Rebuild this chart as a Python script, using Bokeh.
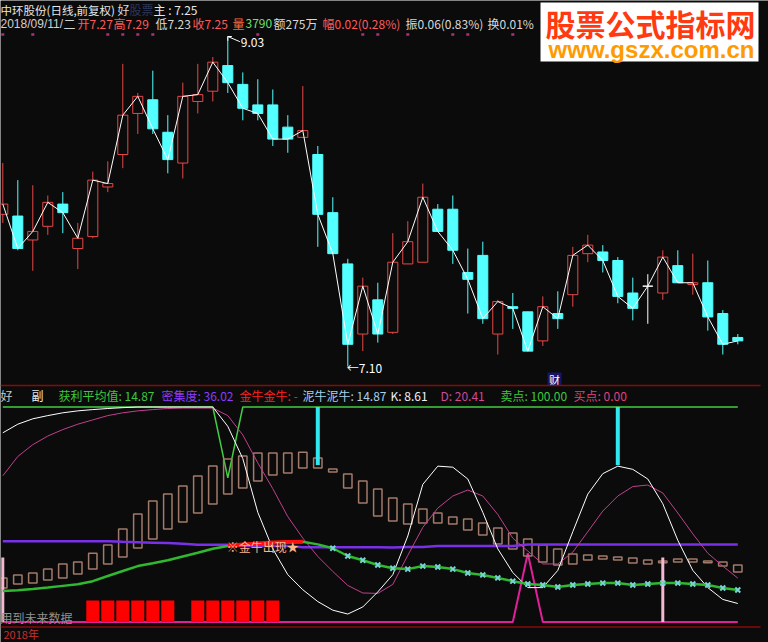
from bokeh.plotting import figure
from bokeh.models import Range1d
from bokeh.embed import file_html
from bokeh.resources import INLINE
from bokeh.core.properties import value

# ---- daily bars (前复权) ----
opens = [7.99, 7.98, 7.84, 7.92, 8.05, 7.79, 7.86, 8.15, 8.34, 8.58,
         8.66, 8.47, 8.29, 8.65, 8.71, 8.86, 8.75, 8.63, 8.63, 8.50,
         8.44, 8.34, 8.00, 7.70, 7.29, 7.49, 7.30, 7.70, 7.71, 8.02,
         8.02, 7.65, 7.75, 7.29, 7.45, 7.42, 7.25, 7.41, 7.52, 7.76,
         7.77, 7.72, 7.53, 7.57, 7.53, 7.69, 7.58, 7.59, 7.41, 7.27]
highs = [8.29, 8.19, 8.16, 8.10, 8.12, 7.94, 8.24, 8.30, 8.87, 8.70,
         8.83, 8.57, 8.76, 8.87, 8.91, 9.03, 8.82, 8.78, 8.72, 8.57,
         8.74, 8.39, 8.09, 7.73, 7.62, 7.59, 7.88, 7.95, 8.17, 8.05,
         8.10, 7.79, 7.83, 7.49, 7.53, 7.42, 7.51, 7.54, 7.80, 7.87,
         7.81, 7.74, 7.62, 7.64, 7.78, 7.78, 7.76, 7.72, 7.43, 7.29]
lows = [7.94, 7.78, 7.66, 7.87, 7.88, 7.67, 7.85, 8.12, 8.26, 8.46,
        8.46, 8.23, 8.20, 8.58, 8.65, 8.70, 8.54, 8.54, 8.39, 8.35,
        8.44, 7.80, 7.76, 7.10, 7.19, 7.24, 7.29, 7.70, 7.71, 7.89,
        7.70, 7.41, 7.35, 7.17, 7.32, 7.19, 7.22, 7.32, 7.45, 7.71,
        7.65, 7.47, 7.37, 7.35, 7.49, 7.59, 7.52, 7.31, 7.17, 7.23]
closes = [8.05, 7.79, 7.89, 8.06, 8.00, 7.85, 8.19, 8.17, 8.57, 8.68,
          8.49, 8.31, 8.68, 8.69, 8.88, 8.76, 8.61, 8.58, 8.43, 8.43,
          8.48, 7.99, 7.76, 7.23, 7.57, 7.29, 7.71, 7.83, 8.09, 7.89,
          7.78, 7.61, 7.38, 7.48, 7.44, 7.19, 7.45, 7.38, 7.75, 7.81,
          7.72, 7.51, 7.44, 7.57, 7.74, 7.59, 7.59, 7.39, 7.23, 7.25]
signal_days = [0, 2, 7, 8, 9, 10, 17, 24, 25, 27, 30, 31, 34]

# ---- sub-chart indicator ----
k_line = [88.0, 92.0, 94.5, 96.0, 97.3, 98.2, 98.8, 99.3, 99.7, 100.0,
          100.0, 100.0, 100.0, 100.0, 100.0, 91.0, 76.0, 51.0, 34.0, 22.0,
          15.0, 9.5, 5.5, 3.7, 7.0, 14.0, 22.0, 40.0, 64.0, 72.5,
          72.0, 66.5, 51.0, 34.0, 23.0, 16.0, 16.0, 24.0, 42.0, 59.5,
          69.0, 72.5, 71.0, 66.5, 55.0, 38.0, 24.0, 16.0, 10.5, 8.61]
d_line = [68.0, 77.0, 82.5, 86.5, 89.5, 92.0, 94.0, 96.0, 97.3, 98.2,
          98.8, 99.3, 99.5, 99.5, 99.5, 96.0, 87.0, 74.0, 62.0, 49.0,
          39.0, 30.5, 23.5, 17.0, 13.5, 13.3, 17.5, 31.0, 44.0, 53.0,
          58.6, 61.4, 58.6, 50.0, 39.0, 33.0, 27.0, 27.0, 32.5, 42.0,
          51.6, 58.6, 63.0, 63.7, 60.0, 50.7, 41.0, 32.0, 26.0, 20.41]
density = [37.6, 37.6, 37.6, 37.6, 37.6, 37.6, 37.6, 37.6, 37.3, 37.1,
           36.9, 36.7, 36.4, 35.9, 35.9, 35.9, 35.4, 35.4, 35.4, 35.4,
           34.8, 34.8, 34.8, 34.8, 34.8, 34.8, 34.6, 34.9, 34.9, 35.3,
           35.3, 35.3, 35.3, 35.3, 35.3, 36.0, 36.0, 36.0, 36.0, 36.0,
           36.0, 36.0, 36.0, 36.0, 36.0, 36.0, 36.0, 36.0, 36.0, 36.02]
profit_avg = [14.4, 14.8, 15.3, 16.0, 16.8, 17.6, 19.0, 21.4, 23.7, 26.0,
              27.3, 28.7, 30.5, 32.2, 34.1, 35.3, 36.0, 36.5, 37.0, 37.2,
              37.3, 36.1, 34.3, 30.7, 28.7, 26.5, 25.0, 24.6, 26.0, 25.6,
              24.6, 22.8, 21.9, 20.5, 19.0, 17.7, 17.2, 16.3, 17.2, 17.7,
              18.1, 18.1, 17.2, 17.7, 18.1, 18.1, 17.7, 17.2, 15.8, 14.87]
box_top = [20.5, 21.9, 22.8, 24.6, 27.0, 27.9, 32.0, 35.8, 43.3, 50.2,
           56.3, 59.5, 63.3, 67.9, 72.6, 75.8, 77.2, 78.6, 78.6, 78.6,
           79.0, 76.3, 71.2, 68.8, 65.6, 61.9, 57.7, 54.9, 52.6, 50.7,
           48.8, 47.9, 46.0, 43.7, 41.4, 38.6, 35.8, 34.0, 31.6, 31.2,
           30.7, 30.2, 29.8, 28.8, 28.4, 29.3, 29.3, 28.4, 27.9, 26.5]
box_bottom = [15.8, 17.7, 18.1, 19.5, 20.5, 22.3, 24.6, 27.0, 30.2, 34.4,
              38.6, 43.3, 46.5, 50.7, 54.9, 59.5, 62.3, 65.6, 68.4, 69.3,
              71.6, 71.6, 69.8, 62.3, 55.3, 49.3, 47.0, 45.6, 46.0, 46.0,
              45.6, 42.8, 40.5, 36.3, 34.0, 30.7, 27.9, 26.5, 27.0, 28.8,
              29.3, 28.8, 27.4, 27.0, 27.6, 27.9, 27.9, 27.6, 26.0, 23.3]
sell_point = [100.0] * 15 + [67.0] + [100.0] * 34
buy_point = [0.0] * 35 + [32.0] + [0.0] * 14
bull_start, bull_end = 15, 20          # 金牛 segment
mark_from = 22                          # first day with × marker
cyan_sticks = [21, 41]
cyan_stick_top, cyan_stick_bottom = 100.0, 73.0
pink_sticks = [0, 44]
pink_stick_height = 30.0
red_blocks = [6, 7, 8, 9, 10, 11, 13, 14, 15, 16, 17, 18]
red_block_height = 10.0

n = len(closes)
idx = list(range(n))

BG = "#0b0b0b"
UP = "#e84848"
DOWN = "#54ffff"
W, H = 768, 642
FONT = value("Noto Sans CJK SC")
LATIN = value("Liberation Sans")

# one canvas; x is bar number, y ranges map price / indicator / layout pixels
p = figure(width=W, height=H, output_backend="svg", toolbar_location=None,
           x_range=Range1d(-2.3 / 15, (W - 2.3) / 15), y_range=Range1d(H, 0),
           x_axis_location=None, y_axis_location=None, min_border=0)
p.extra_x_ranges = {"px": Range1d(0, W)}
p.extra_y_ranges = {"price": Range1d(9.03 - (H - 36) / 171.0, 9.03 + 36 / 171.0),
                    "ind": Range1d((621.5 - H) / 2.15, 621.5 / 2.15)}
p.background_fill_color = BG
p.border_fill_color = BG
p.outline_line_color = None
p.xgrid.visible = False
p.ygrid.visible = False


def txt(x, y, s, color, size="12px", align="left", bold=False, font=FONT):
    p.text(x=[x], y=[y], text=[s], x_range_name="px", text_color=color,
           text_font=font, text_font_size=size, text_align=align,
           text_baseline="middle", text_font_style="bold" if bold else "normal")


# ---- candles ----
cols = [UP if c > o else (DOWN if c < o else "white") for o, c in zip(opens, closes)]
fills = [BG if c > o else (DOWN if c < o else "white") for o, c in zip(opens, closes)]
p.segment(x0=idx, y0=highs, x1=idx, y1=lows, line_color=cols, line_width=1,
          y_range_name="price")
p.vbar(x=idx, top=[max(o, c) for o, c in zip(opens, closes)],
       bottom=[min(o, c) for o, c in zip(opens, closes)], width=0.67,
       fill_color=fills, line_color=cols, line_width=1, y_range_name="price")
p.line(idx, closes, line_color="white", line_width=1, y_range_name="price")

# extreme marks
hi_i = max(idx, key=lambda i: highs[i])
lo_i = min(idx, key=lambda i: lows[i])
hi_v, lo_v = highs[hi_i], lows[lo_i]
p.segment(x0=[hi_i, hi_i, hi_i], y0=[hi_v, hi_v, hi_v],
          x1=[hi_i + 0.8, hi_i + 0.27, hi_i], y1=[hi_v - 0.03, hi_v, hi_v - 0.025],
          line_color="white", line_width=1, y_range_name="price")
p.text(x=[hi_i], y=[hi_v], text=[f"{hi_v:.2f}"], x_offset=13, y_offset=6,
       text_color="white", text_font=FONT, text_font_size="12px",
       text_baseline="middle", y_range_name="price")
p.text(x=[lo_i], y=[lo_v], text=[f"←{lo_v:.2f}"], x_offset=-1, y_offset=1,
       text_color="white", text_font=FONT, text_font_size="12px",
       text_baseline="middle", y_range_name="price")

# small signal marks along the top
p.rect(x=signal_days, y=[34] * len(signal_days), width=0.2, height=2.5,
       fill_color="#b0307e", line_color=None)

# 财 tag
p.quad(left=[547], right=[561], top=[372], bottom=[385], x_range_name="px",
       fill_color="#15156a", line_color=None)
txt(554, 379, "财", "white", size="11px", align="center")

# panel separators
p.segment(x0=[0, 0], y0=[385, 626.5], x1=[760, 760], y1=[385, 626.5],
          x_range_name="px", line_color="#8a0a0a", line_width=1.5)

# ---- indicator panel ----
p.line(idx, sell_point, line_color="#44cc44", line_width=1.5, y_range_name="ind")
p.line(idx, buy_point, line_color="#e0209a", line_width=2, y_range_name="ind")
p.vbar(x=red_blocks, top=red_block_height, bottom=0, width=0.87,
       fill_color="#ff0000", line_color=None, y_range_name="ind")
p.vbar(x=idx, top=box_top, bottom=box_bottom, width=0.56, fill_color=None,
       line_color="#a27a6a", line_width=1.5, y_range_name="ind")
p.segment(x0=cyan_sticks, y0=[cyan_stick_top] * 2, x1=cyan_sticks,
          y1=[cyan_stick_bottom] * 2, line_color="#30e8f0", line_width=4,
          y_range_name="ind")
p.segment(x0=pink_sticks, y0=[0, 0], x1=pink_sticks,
          y1=[pink_stick_height] * 2, line_color="#f4b8d4", line_width=3,
          y_range_name="ind")
p.line(idx, density, line_color="#7a30e8", line_width=2.5, y_range_name="ind")
p.line(idx, d_line, line_color="#c0408e", line_width=1, y_range_name="ind")
p.line(idx, k_line, line_color="white", line_width=1, y_range_name="ind")
p.line(idx, profit_avg, line_color="#30b830", line_width=2.5, y_range_name="ind")
p.line(idx[bull_start:bull_end + 1], profit_avg[bull_start:bull_end + 1],
       line_color="#ff1010", line_width=4, y_range_name="ind")
p.scatter(idx[mark_from:], profit_avg[mark_from:], marker="x", size=7,
          line_color="#78d4d4", line_width=2, y_range_name="ind")
p.text(x=[bull_start], y=[profit_avg[bull_start]], text=["※金牛出现★"],
       x_offset=-1, text_color="#ffb48c", text_font=FONT, text_font_size="12px",
       text_baseline="middle", y_range_name="ind")

# ---- header texts ----
row1 = [(117, "好", "#d8d8d8"), (129, "股票", "#2c3658"),
        (153, "主 : 7.25", "#e6e6e6")]
row2 = [(63, "二", "#d0d0d0"), (77, "开7.27", "#ff5a5a"),
        (113, "高7.29", "#ff5a5a"), (155, "低7.23", "#d8d8d8"),
        (192, "收7.25", "#ff5a5a"), (232, "量", "#ff6a40"), (245, "3790", "#6ee06e"),
        (273, "额275万", "#d8d8d8"), (322, "幅0.02(0.28%)", "#ff5a5a"),
        (405, "振0.06(0.83%)", "#d8d8d8"), (487, "换0.01%", "#d8d8d8")]
txt(0, 9, "中环股份(日线,前复权)", "#e6e6e6", size="11.5px")
for x, s, c in row1:
    txt(x, 9, s, c)
txt(0, 23, "2018/09/11/", "#d0d0d0", font=LATIN)
for x, s, c in row2:
    txt(x, 23, s, c)

sub_header = [(0, "好", "#c8c8c8"), (31, "副", "#e8e8e8"),
              (58, f"获利平均值: {profit_avg[-1]:.2f}", "#3cc83c"),
              (161, f"密集度: {density[-1]:.2f}", "#8a3cff"),
              (239, "金牛金牛: -", "#ff2020"),
              (302, f"泥牛泥牛: {profit_avg[-1]:.2f}", "#a8d0e8"),
              (390, f"K: {k_line[-1]:.2f}", "#f0f0f0"),
              (440, f"D: {d_line[-1]:.2f}", "#d04898"),
              (500, f"卖点: {sell_point[-1]:.2f}", "#3cc83c"),
              (573, f"买点: {buy_point[-1]:.2f}", "#e0407a")]
for x, s, c in sub_header:
    txt(x, 395, s, c)

txt(0, 617, "用到未来数据", "#909090")
txt(3, 633, "2018年", "#c83030", size="11px")

# watermark
p.quad(left=[540], right=[758], top=[2], bottom=[61], x_range_name="px",
       fill_color="white", line_color=None)
txt(650, 22, "股票公式指标网", "#ff3a10", size="30px", align="center", bold=True)
p.text(x=[651], y=[49], text=["www.gszx.com.cn"], x_range_name="px",
       text_color="#ff9a00", text_font=LATIN,
       text_font_size="24px", text_font_style="bold", text_align="center",
       text_baseline="middle")

open("out.html", "w").write(file_html(p, INLINE))
